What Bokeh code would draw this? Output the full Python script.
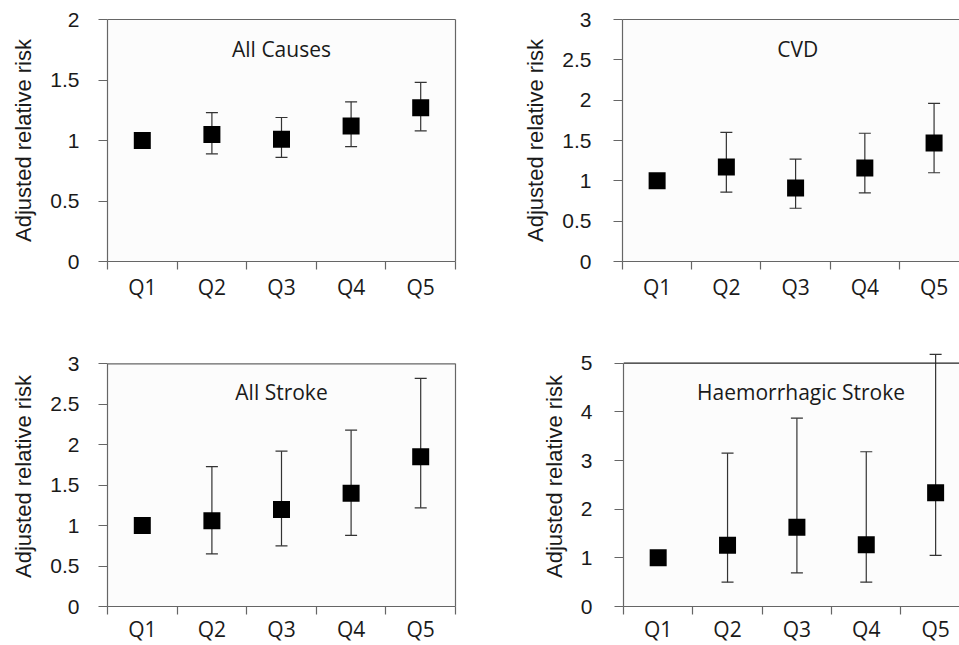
from bokeh.plotting import figure
from bokeh.models import (ColumnDataSource, Whisker, TeeHead, LinearAxis, FixedTicker,
                          CustomJSTickFormatter, Label, Range1d, Span, BoxAnnotation)
from bokeh.layouts import column, row
from bokeh.embed import file_html
from bokeh.resources import INLINE

categories = ["Q1", "Q2", "Q3", "Q4", "Q5"]
y_label = "Adjusted relative risk"

titles = ["All Causes", "CVD", "All Stroke", "Haemorrhagic Stroke"]

allcause_rr = [1.00, 1.05, 1.01, 1.12, 1.27]
allcause_lo = [1.00, 0.89, 0.86, 0.95, 1.08]
allcause_hi = [1.00, 1.23, 1.19, 1.32, 1.48]

cvd_rr = [1.00, 1.17, 0.91, 1.16, 1.47]
cvd_lo = [1.00, 0.86, 0.66, 0.85, 1.10]
cvd_hi = [1.00, 1.60, 1.27, 1.59, 1.96]

stroke_rr = [1.00, 1.06, 1.20, 1.40, 1.85]
stroke_lo = [1.00, 0.65, 0.75, 0.88, 1.22]
stroke_hi = [1.00, 1.73, 1.92, 2.18, 2.82]

haem_rr = [1.00, 1.26, 1.63, 1.27, 2.34]
haem_lo = [1.00, 0.50, 0.69, 0.50, 1.05]
haem_hi = [1.00, 3.15, 3.87, 3.18, 5.18]

yticks_allcause = [0, 0.5, 1, 1.5, 2]
yticks_cvd = [0, 0.5, 1, 1.5, 2, 2.5, 3]
yticks_stroke = [0, 0.5, 1, 1.5, 2, 2.5, 3]
yticks_haem = [0, 1, 2, 3, 4, 5]

AXIS_COL = "#666666"
TXT_COL = "#1a1a1a"
TICK_FONT = "Liberation Sans"
CAT_FONT = "Open Sans"


def blank_axis(bounds=None):
    ax = LinearAxis(ticker=FixedTicker(ticks=[], minor_ticks=[]), major_tick_out=0,
                    major_tick_in=0, minor_tick_out=0, minor_tick_in=0,
                    major_label_text_font_size="0px", axis_line_color=AXIS_COL,
                    axis_line_width=1.2, major_label_standoff=0)
    if bounds is not None:
        ax.bounds = bounds
    return ax


def make_panel(title, rr, lo, hi, yticks, width, height, bl, br, bt, bb,
               x_end, y_end, right_border, title_xy, xstandoff, ystandoff, top_col):
    top_val = yticks[-1]
    p = figure(width=width, height=height, output_backend="svg", toolbar_location=None,
               x_range=Range1d(0.5, x_end), y_range=Range1d(0, y_end),
               min_border_left=bl, min_border_right=br, min_border_top=bt,
               min_border_bottom=bb, x_axis_type=None, y_axis_type=None)
    p.xgrid.visible = False
    p.ygrid.visible = False
    p.border_fill_color = "white"
    p.background_fill_color = "white"
    p.outline_line_color = None
    p.add_layout(BoxAnnotation(bottom=0, top=top_val, fill_color="#fcfcfc",
                               fill_alpha=1, line_color=None, level="underlay"))
    # top border of the plot area
    if y_end > top_val + 1e-9:
        p.add_layout(Span(location=top_val, dimension="width", line_color=top_col,
                          line_width=1.2))
    else:
        p.add_layout(blank_axis(), "above")
    if right_border:
        p.add_layout(blank_axis(bounds=(0, top_val)), "right")

    xs = list(range(1, len(categories) + 1))
    src = ColumnDataSource(dict(x=xs, rr=rr, lo=lo, hi=hi))

    # x axis: labels at category centres, tick marks between categories
    xax = LinearAxis(ticker=FixedTicker(ticks=xs, minor_ticks=[v - 0.5 for v in xs] + [xs[-1] + 0.5]),
                     formatter=CustomJSTickFormatter(args=dict(labels=categories),
                                                     code="return labels[Math.round(tick)-1] || '';"))
    xax.major_tick_out = 0
    xax.major_tick_in = 0
    xax.minor_tick_out = 8
    xax.minor_tick_in = 0
    xax.minor_tick_line_color = AXIS_COL
    xax.minor_tick_line_width = 1.2
    xax.axis_line_color = AXIS_COL
    xax.axis_line_width = 1.2
    xax.major_label_text_font = CAT_FONT
    xax.major_label_text_font_size = "21px"
    xax.major_label_text_color = TXT_COL
    xax.major_label_standoff = xstandoff
    p.add_layout(xax, "below")

    # y axis
    yax = LinearAxis(ticker=FixedTicker(ticks=yticks, minor_ticks=[]),
                     formatter=CustomJSTickFormatter(code="return tick.toString();"))
    yax.bounds = (0, top_val)
    yax.major_tick_out = 9
    yax.major_tick_in = 0
    yax.major_tick_line_color = AXIS_COL
    yax.major_tick_line_width = 1.2
    yax.minor_tick_line_color = None
    yax.axis_line_color = AXIS_COL
    yax.axis_line_width = 1.2
    yax.major_label_text_font = TICK_FONT
    yax.major_label_text_font_size = "21px"
    yax.major_label_text_color = TXT_COL
    yax.major_label_standoff = ystandoff
    yax.axis_label = y_label
    yax.axis_label_text_font = TICK_FONT
    yax.axis_label_text_font_size = "22px"
    yax.axis_label_text_font_style = "normal"
    yax.axis_label_text_color = TXT_COL
    yax.axis_label_standoff = 11
    p.add_layout(yax, "left")

    wh = Whisker(source=src, base="x", upper="hi", lower="lo",
                 line_color="#333333", line_width=1.2, level="underlay",
                 upper_head=TeeHead(size=12, line_color="#333333", line_width=1.2),
                 lower_head=TeeHead(size=12, line_color="#333333", line_width=1.2))
    p.add_layout(wh)

    p.scatter("x", "rr", source=src, marker="square", size=17, fill_color="black",
              line_color=None)

    p.add_layout(Label(x=title_xy[0], y=title_xy[1], text=title, text_align="center",
                       text_baseline="middle", text_font=CAT_FONT, text_font_size="21px",
                       text_color=TXT_COL))
    return p


p1 = make_panel(titles[0], allcause_rr, allcause_lo, allcause_hi, yticks_allcause,
                488, 310, 107, 33, 19, 49, 5.5, 2, True, (3, 1.76), 3, 19, AXIS_COL)
p2 = make_panel(titles[1], cvd_rr, cvd_lo, cvd_hi, yticks_cvd,
                471, 310, 134, 0, 19, 49, 0.5 + 337.3 / 69.3, 3, False, (3.03, 2.64), 3, 22,
                AXIS_COL)
p3 = make_panel(titles[2], stroke_rr, stroke_lo, stroke_hi, yticks_stroke,
                488, 335, 107, 33, 36, 39, 5.5, 260 / 80.9, True, (3, 2.65), 0, 19, AXIS_COL)
p4 = make_panel(titles[3], haem_rr, haem_lo, haem_hi, yticks_haem,
                471, 335, 135, 0, 36, 39, 0.5 + 335.7 / 69.3, 260 / 48.66, False,
                (3.06, 4.40), 0, 22, "#222222")

layout = column(row(p1, p2), row(p3, p4))
open("out.html", "w").write(file_html(layout, INLINE))
